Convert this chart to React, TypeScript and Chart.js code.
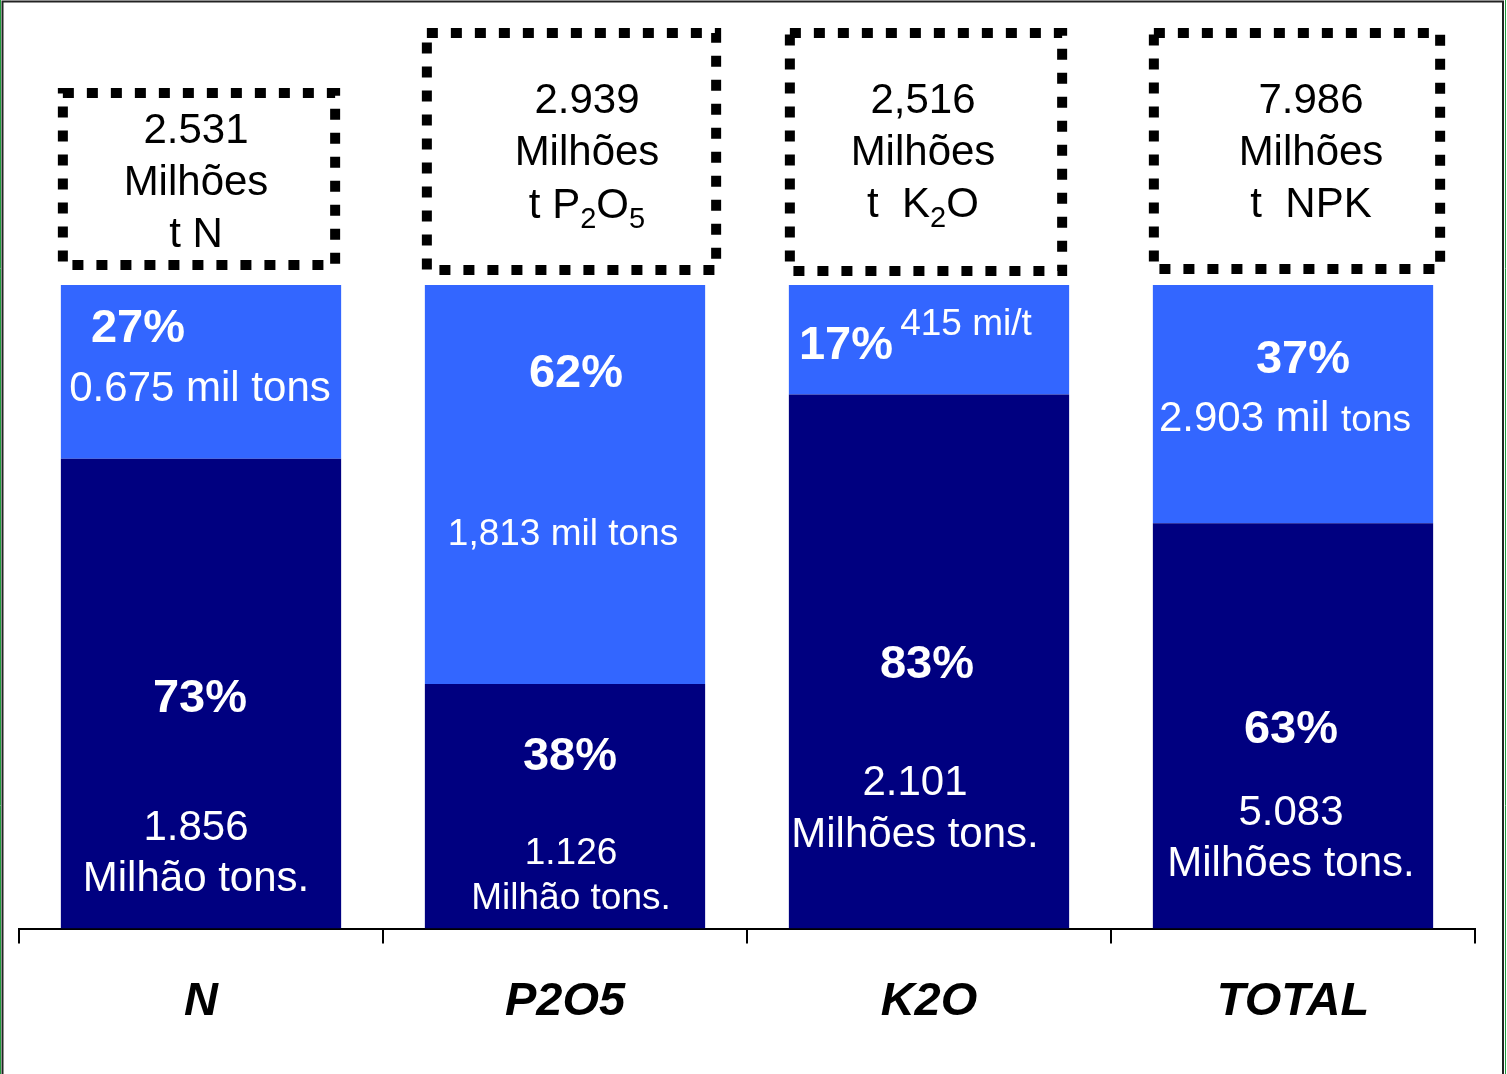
import React, { useEffect, useRef } from "react";
import { Chart, registerables } from "chart.js";

Chart.register(...registerables);

// ---------- data ----------
const categories = ["N", "P2O5", "K2O", "TOTAL"];
const darkShare = [73, 38, 83, 63];
const lightShare = [27, 62, 17, 37];
const lightAmountLabels = ["0.675 mil tons", "1,813 mil tons", "415 mi/t", "2.903 mil ~tons~"];
const darkAmountLabels = [
  ["1.856", "Milhão tons."],
  ["1.126", "Milhão tons."],
  ["2.101", "Milhões tons."],
  ["5.083", "Milhões tons."],
];
const totalAmounts = ["2.531", "2.939", "2,516", "7.986"];
const totalUnitWord = "Milhões";
const totalUnits = ["t N", "t P_2O_5", "t  K_2O", "t  NPK"];

// ---------- styles / layout ----------
const FONT = '"Liberation Sans", Arial, Helvetica, sans-serif';
const DARK = "#000080";
const LIGHT = "#3366FF";

// positions relative to each bar segment (dx from bar centre, f = fraction of segment height from top)
const labelLayout = [
  { lp: { dx: -63, f: 0.23 }, la: { dx: -1, f: 0.58, size: 42 }, dp: { dx: -1, f: 0.503 }, da: { dx: -5, f: 0.78, size: 42, gap: 51 } },
  { lp: { dx: 11, f: 0.214 }, la: { dx: -2, f: 0.618, size: 37 }, dp: { dx: 5, f: 0.281 }, da: { dx: 6, f: 0.682, size: 37, gap: 45 } },
  { lp: { dx: -83, f: 0.52 }, la: { dx: 37, f: 0.34, size: 37 }, dp: { dx: -2, f: 0.5 }, da: { dx: -14, f: 0.721, size: 42, gap: 52 } },
  { lp: { dx: 10, f: 0.297 }, la: { dx: -8, f: 0.552, size: 42 }, dp: { dx: -2, f: 0.5 }, da: { dx: -2, f: 0.708, size: 42, gap: 51 } },
];
// dotted boxes, offsets from bar edges and chart-area top
const boxLayout = [
  { l: -3, r: -1, t: -197, b: -15, dx: -5, ys: [-157, -105, -53] },
  { l: -3, r: 16, t: -257, b: -10, dx: 22, ys: [-187, -135, -82] },
  { l: -4, r: -2, t: -257, b: -9, dx: -6, ys: [-187, -135, -83] },
  { l: -4, r: 12, t: -257, b: -11, dx: 18, ys: [-187, -135, -83] },
];

type Run = { text: string; size: number; shift: number; bold: boolean };

function parseRuns(s: string, size: number, bold: boolean): Run[] {
  const runs: Run[] = [];
  let buf = "";
  let small = false;
  const flush = () => {
    if (buf) runs.push({ text: buf, size: small ? Math.round(size * 0.88) : size, shift: 0, bold });
    buf = "";
  };
  for (let i = 0; i < s.length; i++) {
    const c = s[i];
    if (c === "~") {
      flush();
      small = !small;
    } else if (c === "_" && i + 1 < s.length) {
      flush();
      runs.push({ text: s[i + 1], size: Math.round(size * 0.68), shift: size * 0.24, bold });
      i++;
    } else buf += c;
  }
  flush();
  return runs;
}

function drawLine(ctx: CanvasRenderingContext2D, s: string, cx: number, cy: number, size: number, bold: boolean, color: string) {
  const runs = parseRuns(s, size, bold);
  let total = 0;
  for (const r of runs) {
    ctx.font = `${r.bold ? "bold " : ""}${r.size}px ${FONT}`;
    total += ctx.measureText(r.text).width;
  }
  let x = cx - total / 2;
  const baseline = cy + size * 0.358;
  ctx.fillStyle = color;
  ctx.textAlign = "left";
  ctx.textBaseline = "alphabetic";
  for (const r of runs) {
    ctx.font = `${r.bold ? "bold " : ""}${r.size}px ${FONT}`;
    ctx.fillText(r.text, x, baseline + r.shift);
    x += ctx.measureText(r.text).width;
  }
}

const labelsPlugin = {
  id: "customLabels",
  afterDatasetsDraw(chart: any) {
    const ctx: CanvasRenderingContext2D = chart.ctx;
    const dark = chart.getDatasetMeta(0).data;
    const light = chart.getDatasetMeta(1).data;
    const top = chart.chartArea.top;
    ctx.save();
    categories.forEach((_, i) => {
      const L = labelLayout[i];
      const d = dark[i];
      const l = light[i];
      // light segment
      const lTop = Math.min(l.y, l.base);
      const lH = Math.abs(l.base - l.y);
      drawLine(ctx, `${lightShare[i]}%`, l.x + L.lp.dx, lTop + lH * L.lp.f, 47, true, "#fff");
      drawLine(ctx, lightAmountLabels[i], l.x + L.la.dx, lTop + lH * L.la.f, L.la.size, false, "#fff");
      // dark segment
      const dTop = Math.min(d.y, d.base);
      const dH = Math.abs(d.base - d.y);
      drawLine(ctx, `${darkShare[i]}%`, d.x + L.dp.dx, dTop + dH * L.dp.f, 47, true, "#fff");
      darkAmountLabels[i].forEach((t, k) => {
        drawLine(ctx, t, d.x + L.da.dx, dTop + dH * L.da.f + k * L.da.gap, L.da.size, false, "#fff");
      });
      // dotted box
      const B = boxLayout[i];
      const half = d.width / 2;
      const lw = 10;
      const x0 = d.x - half + B.l + lw / 2;
      const x1 = d.x + half + B.r - lw / 2;
      const y0 = top + B.t + lw / 2;
      const y1 = top + B.b - lw / 2;
      ctx.save();
      ctx.strokeStyle = "#000";
      ctx.lineWidth = lw;
      ctx.setLineDash([11, 13]);
      ctx.beginPath();
      ctx.moveTo(x0, y0);
      ctx.lineTo(x1, y0);
      ctx.lineTo(x1, y1);
      ctx.lineTo(x0, y1);
      ctx.closePath();
      ctx.stroke();
      ctx.restore();
      const lines = [totalAmounts[i], totalUnitWord, totalUnits[i]];
      lines.forEach((t, k) => drawLine(ctx, t, d.x + B.dx, top + B.ys[k], 42, false, "#000"));
    });
    // outer frame
    const w = chart.width;
    const h = chart.height;
    ctx.strokeStyle = "#1f9a3a";
    ctx.lineWidth = 1;
    ctx.beginPath();
    ctx.moveTo(0.5, h);
    ctx.lineTo(0.5, 0);
    ctx.moveTo(w - 1.5, 0);
    ctx.lineTo(w - 1.5, h);
    ctx.stroke();
    ctx.strokeStyle = "#222";
    ctx.lineWidth = 2;
    ctx.beginPath();
    ctx.moveTo(2.5, h);
    ctx.lineTo(2.5, 1.5);
    ctx.lineTo(w - 4, 1.5);
    ctx.lineTo(w - 4, h);
    ctx.stroke();
    ctx.restore();
  },
};

export default function App() {
  const ref = useRef<HTMLCanvasElement | null>(null);
  useEffect(() => {
    document.body.style.margin = "0";
    const canvas = ref.current;
    if (!canvas) return;
    const chart = new Chart(canvas, {
      type: "bar",
      data: {
        labels: categories,
        datasets: [
          { label: "dark", data: darkShare, backgroundColor: DARK, borderWidth: 0 },
          { label: "light", data: lightShare, backgroundColor: LIGHT, borderWidth: 0 },
        ],
      },
      options: {
        animation: false,
        responsive: false,
        devicePixelRatio: 1,
        layout: { padding: { left: 19, right: 32, top: 285, bottom: 14 } },
        plugins: { legend: { display: false }, tooltip: { enabled: false } },
        datasets: { bar: { categoryPercentage: 1, barPercentage: 0.77 } },
        scales: {
          x: {
            stacked: true,
            grid: { display: true, drawOnChartArea: false, drawTicks: true, tickLength: 15, color: "#000", lineWidth: 2, offset: true },
            border: { display: true, color: "#000", width: 2 },
            ticks: { color: "#000", padding: 30, font: { family: FONT, size: 47, weight: "bold", style: "italic" } },
          },
          y: { stacked: true, display: false, min: 0, max: 100 },
        },
      },
      plugins: [labelsPlugin],
    } as any);
    return () => chart.destroy();
  }, []);
  return (
    <div style={{ width: 1507, height: 1074, background: "#fff" }}>
      <canvas ref={ref} width={1507} height={1074} style={{ display: "block" }} />
    </div>
  );
}
